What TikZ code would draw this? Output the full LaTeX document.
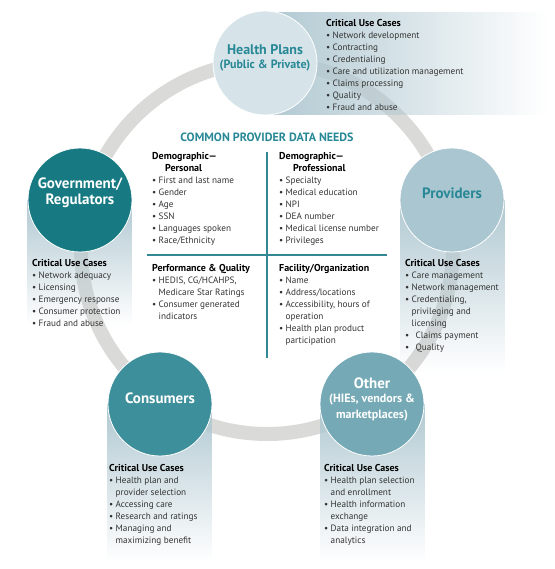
\documentclass[tikz,border=0pt]{standalone}
\usepackage{fontspec}
\setmainfont{PT Sans}
\usetikzlibrary{fadings}

\definecolor{ringgray}{RGB}{218,218,216}
\definecolor{tealtext}{RGB}{40,136,150}
\definecolor{govteal}{RGB}{23,122,130}
\definecolor{conteal}{RGB}{62,143,156}
\definecolor{othteal}{RGB}{116,169,181}
\definecolor{provblue}{RGB}{170,198,208}
\definecolor{planblue}{RGB}{214,228,233}
\definecolor{fadeblue}{RGB}{176,200,209}
\definecolor{divteal}{RGB}{52,136,148}

\tikzfading[name=fadedown, top color=transparent!0, bottom color=transparent!100]
\tikzfading[name=faderight, left color=transparent!0, right color=transparent!100]

\newcommand{\bul}{\makebox[6.5pt][l]{\textbullet}}
\newcommand{\cont}{\hspace*{6.5pt}}
\newcommand{\head}[1]{{\fontsize{10}{12}\selectfont\bfseries\color{black}#1}}
\newcommand{\subsize}{\fontsize{12}{15}\selectfont}

\tikzset{
  ring/.style={draw=ringgray, line width=14pt},
  group/.style={circle, draw=white, line width=0.8pt, minimum size=104pt, inner sep=0pt},
  grouplabel/.style={align=center, inner sep=0pt, font=\bfseries\fontsize{15}{16}\selectfont},
  casetext/.style={anchor=north west, align=left, inner sep=0pt, text=black!80,
    font=\fontsize{9.2}{12}\selectfont},
  needtitle/.style={inner sep=0pt, text=tealtext, font=\bfseries\fontsize{12}{13}\selectfont},
  divline/.style={draw=divteal, line width=1.3pt}
}

\begin{document}
\begin{tikzpicture}[x=1pt,y=1pt]
\useasboundingbox (0,0) rectangle (554,-569);
% ring behind everything
\draw[ring] (267,-248) circle (186);
% faded panels
\fill[fadeblue, path fading=faderight] (265,-12) rectangle (548,-115);
\fill[fadeblue, path fading=fadedown] (27,-200) rectangle (132,-325);
\fill[fadeblue, path fading=fadedown] (400,-200) rectangle (505,-372);
\fill[fadeblue, path fading=fadedown] (107,-404) rectangle (212,-562);
\fill[fadeblue, path fading=fadedown] (320,-404) rectangle (425,-562);
% stakeholder circles
\node[group, fill=planblue] (plans) at (265,-63) {};
\node[group, fill=govteal] (gov) at (80,-200) {};
\node[group, fill=provblue] (prov) at (452,-200) {};
\node[group, fill=conteal] (cons) at (160,-404) {};
\node[group, fill=othteal] (other) at (372,-404) {};
\node[grouplabel, text=tealtext, font=\bfseries\fontsize{14}{15}\selectfont] (planslabel) at (265,-58)
  {Health Plans\\[-1pt]\fontsize{12}{13}\selectfont(Public \& Private)};
\node[grouplabel, text=white] (govlabel) at (80,-193) {Government/\\Regulators};
\node[grouplabel, text=tealtext] (provlabel) at (452,-193) {Providers};
\node[grouplabel, text=white] (conslabel) at (160,-398) {Consumers};
\node[grouplabel, text=white] (otherlabel) at (372,-399)
  {Other\\[-2pt]\subsize(HIEs, vendors \&\\\subsize marketplaces)};
% critical use cases
\node[casetext] (planscases) at (326,-19.5) {\head{Critical Use Cases}\\
  \bul Network development\\ \bul Contracting\\ \bul Credentialing\\
  \bul Care and utilization management\\ \bul Claims processing\\
  \bul Quality\\ \bul Fraud and abuse};
\node[casetext] (govcases) at (32,-259.5) {\head{Critical Use Cases}\\
  \bul Network adequacy\\ \bul Licensing\\ \bul Emergency response\\
  \bul Consumer protection\\ \bul Fraud and abuse};
\node[casetext] (provcases) at (405,-259.5) {\head{Critical Use Cases}\\
  \bul Care management\\ \bul Network management\\ \bul Credentialing,\\
  \cont privileging and\\ \cont licensing\\ \bul\, Claims payment\\ \bul\, Quality};
\node[casetext] (conscases) at (109,-464.5) {\head{Critical Use Cases}\\
  \bul Health plan and\\ \cont provider selection\\ \bul Accessing care\\
  \bul Research and ratings\\ \bul Managing and\\ \cont maximizing benefit};
\node[casetext] (othercases) at (324,-464.5) {\head{Critical Use Cases}\\
  \bul Health plan selection\\ \cont and enrollment\\ \bul Health information\\
  \cont exchange\\ \bul Data integration and\\ \cont analytics};
% common provider data needs
\node[needtitle] (needs) at (267,-137) {COMMON PROVIDER DATA NEEDS};
\draw[divline] (267,-152) -- (267,-358);
\draw[divline] (147,-255) -- (387,-255);
\node[casetext] (personal) at (152,-152.5) {\head{Demographic—}\\
  \hspace*{13pt}\head{Personal}\\ \bul First and last name\\ \bul Gender\\
  \bul Age\\ \bul SSN\\ \bul Languages spoken\\ \bul Race/Ethnicity};
\node[casetext] (professional) at (279,-152.5) {\head{Demographic—}\\
  \hspace*{14pt}\head{Professional}\\ \bul Specialty\\ \bul Medical education\\
  \bul NPI\\ \bul DEA number\\ \bul Medical license number\\ \bul Privileges};
\node[casetext] (quality) at (152,-264.5) {\head{Performance \& Quality}\\
  \bul HEDIS, CG/HCAHPS,\\ \cont Medicare Star Ratings\\
  \bul Consumer generated\\ \cont indicators};
\node[casetext] (facility) at (279,-264.5) {\head{Facility/Organization}\\
  \bul Name\\ \bul Address/locations\\ \bul Accessibility, hours of\\
  \cont operation\\ \bul Health plan product\\ \cont participation};
\end{tikzpicture}
\end{document}
